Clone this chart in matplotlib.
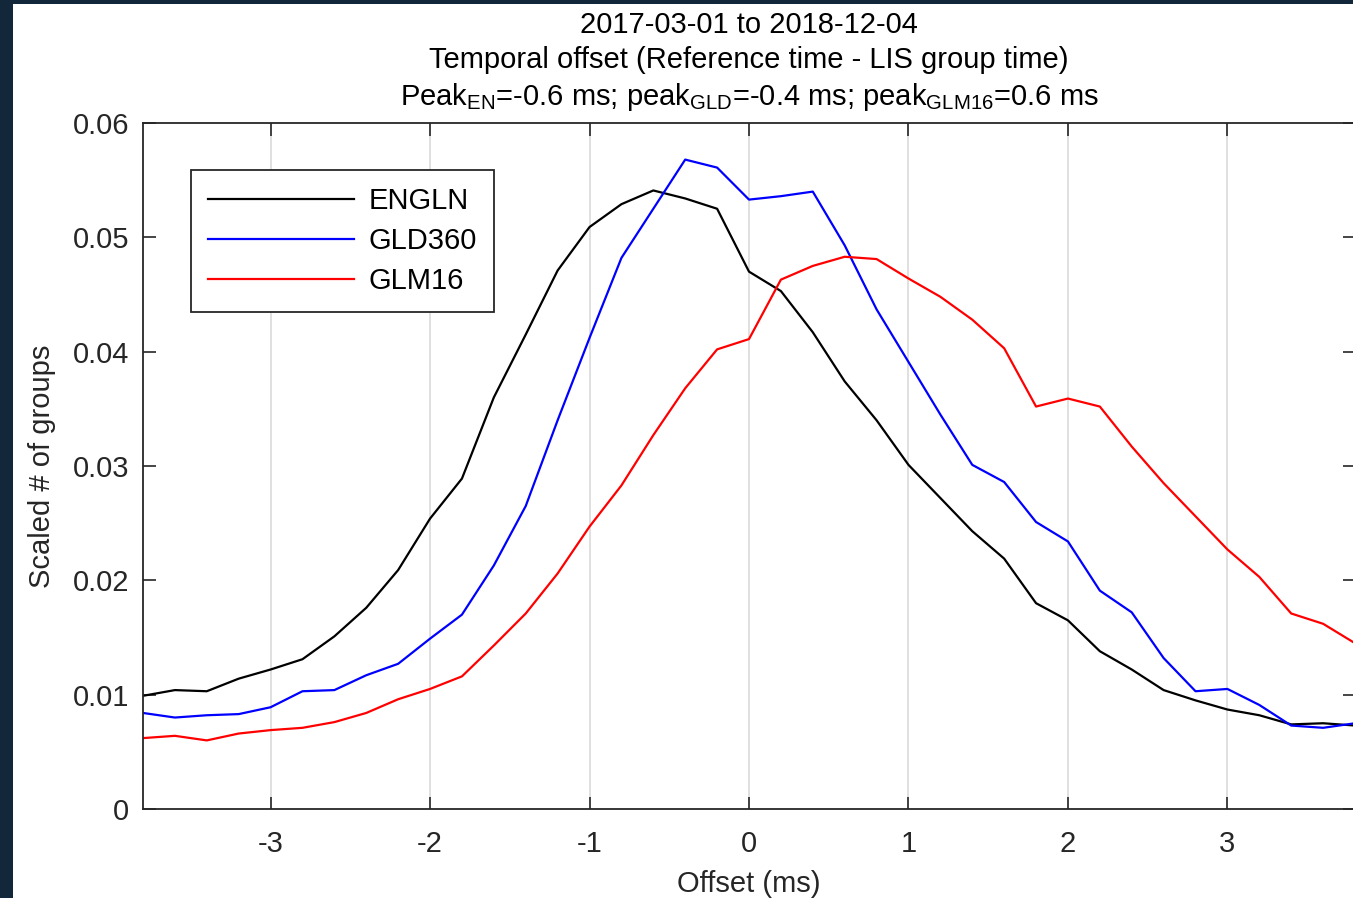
import numpy as np
import matplotlib
matplotlib.use('Agg')
import matplotlib.pyplot as plt
from matplotlib.patches import Rectangle

plt.rcParams['font.family'] = ['Liberation Sans', 'DejaVu Sans']
plt.rcParams['mathtext.fontset'] = 'custom'
plt.rcParams['mathtext.rm'] = 'Liberation Sans'
plt.rcParams['mathtext.it'] = 'Liberation Sans'
plt.rcParams['axes.unicode_minus'] = False

# offsets in ms, 0.2 ms bins
offset = np.round(np.arange(-3.8, 3.81, 0.2), 1)

engln = [0.0099, 0.0104, 0.0103, 0.0114, 0.0122, 0.0131, 0.0151, 0.0176, 0.0209, 0.0254,
         0.0289, 0.0360, 0.0415, 0.0471, 0.0509, 0.0529, 0.0541, 0.0534, 0.0525, 0.0470,
         0.0453, 0.0417, 0.0374, 0.0340, 0.0301, 0.0272, 0.0243, 0.0219, 0.0180, 0.0165,
         0.0138, 0.0122, 0.0104, 0.0095, 0.0087, 0.0082, 0.0074, 0.0075, 0.0073]
gld360 = [0.0084, 0.0080, 0.0082, 0.0083, 0.0089, 0.0103, 0.0104, 0.0117, 0.0127, 0.0149,
          0.0170, 0.0213, 0.0265, 0.0340, 0.0412, 0.0482, 0.0525, 0.0568, 0.0561, 0.0533,
          0.0536, 0.0540, 0.0493, 0.0437, 0.0391, 0.0345, 0.0301, 0.0286, 0.0251, 0.0234,
          0.0191, 0.0172, 0.0132, 0.0103, 0.0105, 0.0091, 0.0073, 0.0071, 0.0075]
glm16 = [0.0062, 0.0064, 0.0060, 0.0066, 0.0069, 0.0071, 0.0076, 0.0084, 0.0096, 0.0105,
         0.0116, 0.0143, 0.0171, 0.0206, 0.0247, 0.0283, 0.0327, 0.0368, 0.0402, 0.0411,
         0.0463, 0.0475, 0.0483, 0.0481, 0.0464, 0.0448, 0.0428, 0.0403, 0.0352, 0.0359,
         0.0352, 0.0317, 0.0285, 0.0256, 0.0227, 0.0203, 0.0171, 0.0162, 0.0145]

labels = ['ENGLN', 'GLD360', 'GLM16']
colors = ['black', 'blue', 'red']

fs = 21

fig = plt.figure(figsize=(13.53, 8.98), dpi=100)
fig.patch.set_facecolor('#13273a')
fig.add_artist(Rectangle((13 / 1353, 0), 1, 1 - 4 / 898, transform=fig.transFigure,
                         facecolor='white', edgecolor='none', zorder=-10))

ax = fig.add_axes([143 / 1353, 1 - 809 / 898, 1212 / 1353, 686 / 898])
for y, lab, c in zip([engln, gld360, glm16], labels, colors):
    ax.plot(offset, y, color=c, lw=1.6, label=lab)

ax.set_xlim(-3.8, 3.8)
ax.set_ylim(0, 0.06)
ax.set_xticks([-3, -2, -1, 0, 1, 2, 3])
ax.set_yticks([0, 0.01, 0.02, 0.03, 0.04, 0.05, 0.06])
ax.set_yticklabels(['0', '0.01', '0.02', '0.03', '0.04', '0.05', '0.06'])
ax.xaxis.grid(True, color='#dddddd', lw=1.3)
ax.set_axisbelow(True)
ax.tick_params(direction='in', length=9, width=1.2, top=True, right=True,
               labelsize=fs, colors='#262626')
ax.tick_params(axis='x', pad=15)
ax.tick_params(axis='y', pad=10)
for s in ax.spines.values():
    s.set_color('#262626')
    s.set_linewidth(1.3)

ax.set_xlabel('Offset (ms)', fontsize=fs, color='#262626', labelpad=8.5)
ax.set_ylabel('Scaled # of groups', fontsize=fs, color='#262626', labelpad=12)
ax.set_title('2017-03-01 to 2018-12-04\n'
             'Temporal offset (Reference time - LIS group time)\n'
             'Peak$_{\\mathregular{EN}}$=-0.6 ms; peak$_{\\mathregular{GLD}}$=-0.4 ms; '
             'peak$_{\\mathregular{GLM16}}$=0.6 ms',
             fontsize=fs, color='black', linespacing=1.3, pad=13)

leg = ax.legend(loc='upper left', bbox_to_anchor=(48 / 1212, 639 / 686), borderaxespad=0,
                fontsize=fs, handlelength=5.0, labelspacing=0.42, fancybox=False,
                edgecolor='#262626', framealpha=1, borderpad=0.58, handletextpad=0.5)
leg.get_frame().set_linewidth(1.3)

fig.savefig('out.png', dpi=100, facecolor=fig.get_facecolor())
